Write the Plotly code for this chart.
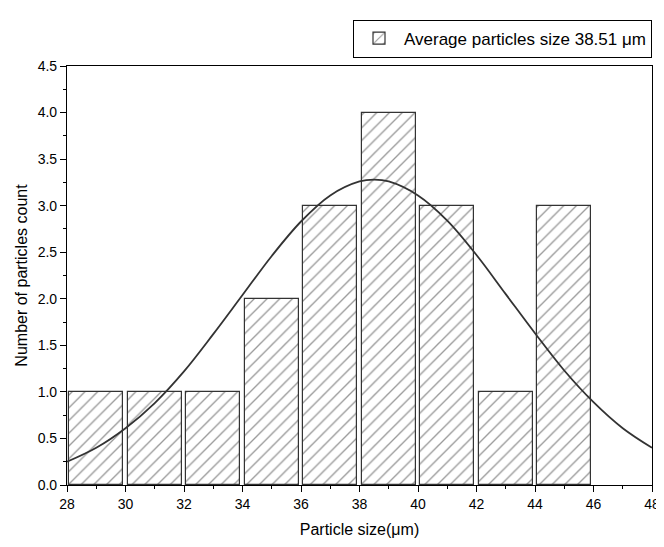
import plotly.graph_objects as go

# histogram bins (centres) and counts
bin_centers = [29, 31, 33, 35, 37, 39, 41, 43, 45]
counts = [1, 1, 1, 2, 3, 4, 3, 1, 3]

# fitted normal curve
curve_x = [28, 29, 30, 31, 32, 33, 34, 35, 36, 37, 38, 38.5, 39, 40, 41, 42, 43, 44, 45, 46, 47, 48]
curve_y = [0.25, 0.40, 0.61, 0.88, 1.22, 1.62, 2.04, 2.46, 2.83, 3.11, 3.26, 3.28, 3.26, 3.11,
           2.84, 2.47, 2.05, 1.63, 1.23, 0.89, 0.61, 0.40]

x_ticks = list(range(28, 49, 2))
y_ticks = [0, 0.5, 1, 1.5, 2, 2.5, 3, 3.5, 4, 4.5]

fig = go.Figure()

fig.add_trace(go.Bar(
    x=bin_centers, y=counts, width=1.85,
    name="Average particles size 38.51 \u03bcm",
    marker=dict(color="white", line=dict(color="#333333", width=1.2),
                pattern=dict(shape="/", fgcolor="#333333", bgcolor="white", size=9, solidity=0.15)),
))

fig.add_trace(go.Scatter(
    x=curve_x, y=curve_y, mode="lines", line=dict(color="#333333", width=1.8, shape="spline"),
    showlegend=False,
))

axis_common = dict(
    showline=True, linecolor="black", linewidth=1.2, mirror=True,
    ticks="outside", ticklen=6, tickwidth=1.2, tickcolor="black",
    showgrid=False, zeroline=False,
    minor=dict(ticks="outside", ticklen=3, tickcolor="black", tickwidth=1),
)

fig.update_layout(
    width=664, height=547,
    paper_bgcolor="white", plot_bgcolor="white",
    font=dict(family="Liberation Sans, Arial", size=14, color="black"),
    margin=dict(l=57, r=12, t=42, b=70),
    bargap=0,
    legend=dict(x=1, y=1.02, xanchor="right", yanchor="bottom",
                bordercolor="black", borderwidth=1, font=dict(size=17),
                itemwidth=40),
    xaxis=dict(axis_common, range=[28, 48], tickvals=x_ticks,
               title=dict(text="Particle size(\u03bcm)", font=dict(size=16), standoff=12),
               minor=dict(axis_common["minor"], dtick=1)),
    yaxis=dict(axis_common, range=[0, 4.5], tickvals=y_ticks, tickformat=".1f",
               title=dict(text="Number of particles count", font=dict(size=16), standoff=6),
               minor=dict(axis_common["minor"], dtick=0.25)),
)

fig.write_html("out.html")
